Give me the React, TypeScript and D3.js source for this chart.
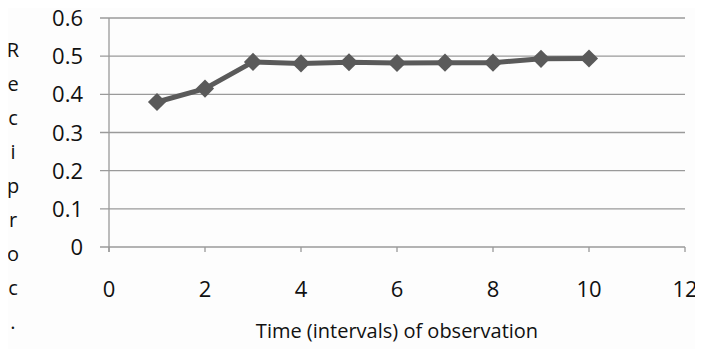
import React, { useEffect, useRef } from "react";
import * as d3 from "d3";

const timePoints = [1, 2, 3, 4, 5, 6, 7, 8, 9, 10];
const reciprocValues = [0.38, 0.415, 0.485, 0.481, 0.484, 0.482, 0.483, 0.483, 0.493, 0.494];
const xTicks = [0, 2, 4, 6, 8, 10, 12];
const yTicks = [0, 0.1, 0.2, 0.3, 0.4, 0.5, 0.6];
const yLabelLetters = ["R", "e", "c", "i", "p", "r", "o", "c", "."];
const xTitle = "Time (intervals) of observation";

const App = () => {
  const ref = useRef<SVGSVGElement>(null);

  useEffect(() => {
    const width = 703;
    const height = 353;
    const svg = d3.select(ref.current);
    svg.selectAll("*").remove();
    svg.attr("width", width).attr("height", height);

    const font = "'Open Sans', 'DejaVu Sans', sans-serif";

    const x = d3.scaleLinear().domain([0, 12]).range([109, 685]);
    const y = d3.scaleLinear().domain([0, 0.6]).range([247, 18]);

    svg.append("rect").attr("width", width).attr("height", height).attr("fill", "#fdfdfd");

    // horizontal gridlines + y tick labels
    const g = svg.append("g");
    g.selectAll("line.grid")
      .data(yTicks)
      .enter()
      .append("line")
      .attr("class", "grid")
      .attr("x1", 100)
      .attr("x2", x(12))
      .attr("y1", (d) => y(d))
      .attr("y2", (d) => y(d))
      .attr("stroke", "#9a9a9a")
      .attr("stroke-width", 1.3);

    g.selectAll("text.ylab")
      .data(yTicks)
      .enter()
      .append("text")
      .attr("class", "ylab")
      .attr("x", 83)
      .attr("y", (d) => y(d) + 8)
      .attr("text-anchor", "end")
      .style("font-family", font)
      .style("font-size", "22px")
      .attr("fill", "#111")
      .text((d) => (d === 0 ? "0" : d3.format(".1f")(d)));

    // y axis line
    g.append("line")
      .attr("x1", x(0))
      .attr("x2", x(0))
      .attr("y1", y(0.6))
      .attr("y2", y(0) + 5)
      .attr("stroke", "#9a9a9a")
      .attr("stroke-width", 1.3);

    // x ticks
    g.selectAll("line.xtick")
      .data(xTicks)
      .enter()
      .append("line")
      .attr("class", "xtick")
      .attr("x1", (d) => x(d))
      .attr("x2", (d) => x(d))
      .attr("y1", y(0))
      .attr("y2", y(0) + 5)
      .attr("stroke", "#9a9a9a")
      .attr("stroke-width", 1.3);

    g.selectAll("text.xlab")
      .data(xTicks)
      .enter()
      .append("text")
      .attr("class", "xlab")
      .attr("x", (d) => x(d))
      .attr("y", 297)
      .attr("text-anchor", "middle")
      .style("font-family", font)
      .style("font-size", "22px")
      .attr("fill", "#111")
      .text((d) => d);

    // line + diamond markers
    const pts = timePoints.map((t, i) => [x(t), y(reciprocValues[i])] as [number, number]);
    g.append("path")
      .attr("d", d3.line()(pts))
      .attr("fill", "none")
      .attr("stroke", "#5a5a5a")
      .attr("stroke-width", 5)
      .attr("stroke-linejoin", "round");

    const diamond = d3.symbol().type(d3.symbolDiamond2).size(210);
    g.selectAll("path.marker")
      .data(pts)
      .enter()
      .append("path")
      .attr("class", "marker")
      .attr("d", diamond)
      .attr("transform", (d) => `translate(${d[0]},${d[1]})`)
      .attr("fill", "#5a5a5a");

    // axis titles
    g.append("text")
      .attr("x", 397)
      .attr("y", 338)
      .attr("text-anchor", "middle")
      .style("font-family", font)
      .style("font-size", "20px")
      .attr("fill", "#111")
      .text(xTitle);

    g.selectAll("text.yt")
      .data(yLabelLetters)
      .enter()
      .append("text")
      .attr("class", "yt")
      .attr("x", 13)
      .attr("y", (d, i) => 57 + i * 34)
      .attr("text-anchor", "middle")
      .style("font-family", font)
      .style("font-size", "20px")
      .attr("fill", "#111")
      .text((d) => d);
  });

  return (
    <div style={{ margin: -8 }}>
      <svg ref={ref}></svg>
    </div>
  );
};

export default App;
